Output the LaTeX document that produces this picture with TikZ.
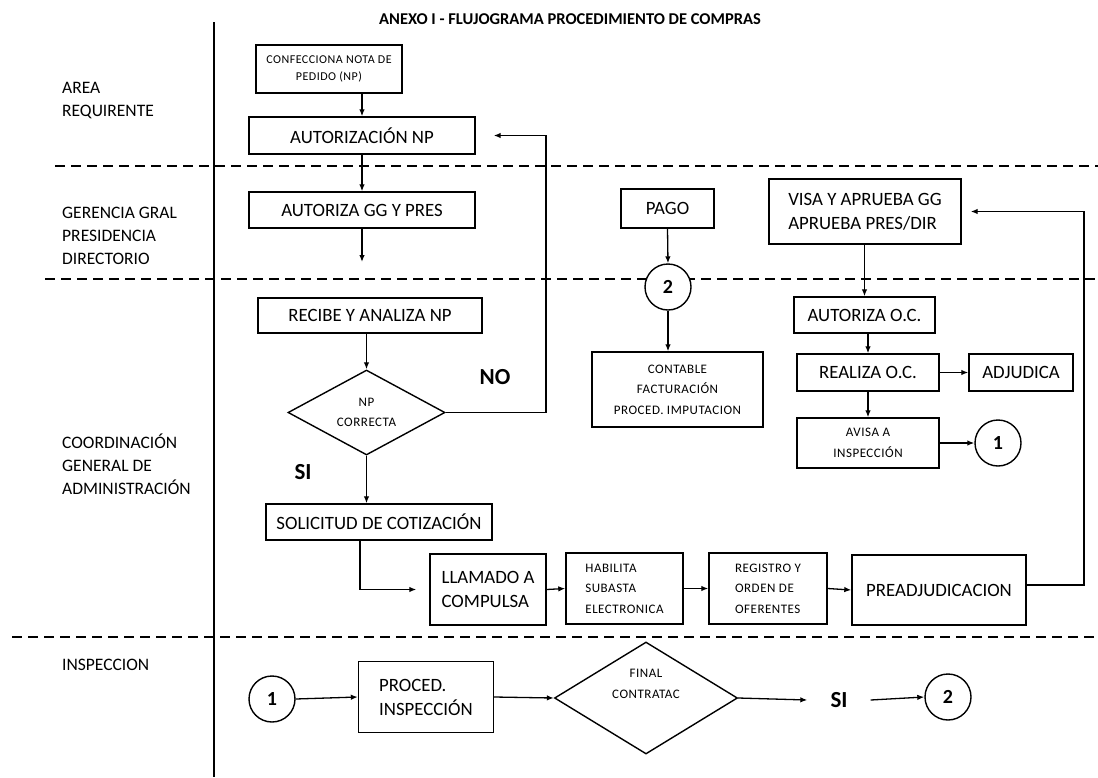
\documentclass[tikz,border=0pt]{standalone}
\usepackage{fontspec}
\setmainfont{Carlito}
\newfontfamily\smf[LetterSpace=4]{Carlito}
\usetikzlibrary{shapes.geometric,arrows.meta}
\newcommand\bigtxt{\fontsize{18.8}{24}\selectfont}
\newcommand\smtxt{\smf\fontsize{13}{20.5}\selectfont}
\newcommand\lbtxt{\fontsize{17.5}{23}\selectfont}
\tikzset{
  box/.style={draw, line width=1.4pt, inner sep=0pt, font=\bigtxt, align=center, fill=white},
  sbox/.style={box, font=\smtxt},
  lbox/.style={box, align=left},
  slbox/.style={lbox, font=\smtxt},
  dia/.style={diamond, draw, line width=1.4pt, inner sep=0pt, font=\smtxt, align=center, fill=white},
  circ/.style={circle, draw, line width=1.4pt, fill=white, minimum size=46pt, inner sep=0pt, font=\bfseries\fontsize{20}{20}\selectfont},
  arr/.style={line width=1.3pt, -{Latex[length=7pt,width=5.5pt]}},
  lane/.style={dash pattern=on 10pt off 6pt, line width=1.3pt},
  lanelabel/.style={anchor=west, align=left, inner sep=0pt, font=\lbtxt},
  yesno/.style={inner sep=0pt, font=\bfseries\fontsize{23}{23}\selectfont}
}
\begin{document}
\begin{tikzpicture}[x=1pt,y=-1pt]
\useasboundingbox[fill=white] (0,0) rectangle (1098,777);

% title
\node[font=\bfseries\fontsize{16.5}{16.5}\selectfont] (title) at (570,19) {ANEXO I - FLUJOGRAMA PROCEDIMIENTO DE COMPRAS};

% lanes
\draw[line width=1.5pt] (214,22) -- (214,777);
\draw[lane] (55,166) -- (1098,166);
\draw[lane] (45,279) -- (1098,279);
\draw[lane] (12,637) -- (1098,637);

\node[lanelabel] (lab1) at (62,101) {AREA\\REQUIRENTE};
\node[lanelabel] (lab2) at (62,236) {GERENCIA GRAL\\PRESIDENCIA\\DIRECTORIO};
\node[lanelabel] (lab3) at (62,464) {COORDINACIÓN\\GENERAL DE\\ADMINISTRACIÓN};
\node[lanelabel] (lab4) at (62,665) {INSPECCION};

% area requirente / gerencia
\node[sbox, font=\smf\fontsize{12}{17}\selectfont, minimum width=146pt, minimum height=48pt] (conf) at (329,69) {CONFECCIONA NOTA DE\\PEDIDO (NP)};
\node[box, minimum width=226pt, minimum height=37pt] (autnp) at (362,135.5) {AUTORIZACIÓN NP};
\node[box, minimum width=226pt, minimum height=36pt] (autgg) at (362,210) {AUTORIZA GG Y PRES};
\coordinate (ggend) at (362,262);
\node[box, minimum width=93pt, minimum height=39pt] (pago) at (667.5,208.5) {PAGO};
\node[lbox, minimum width=192pt, minimum height=65pt] (visa) at (865,211.5) {VISA Y APRUEBA GG\\APRUEBA PRES/DIR};

% coordinacion
\node[box, minimum width=224pt, minimum height=35pt] (recibe) at (370,315.5) {RECIBE Y ANALIZA NP};
\node[dia, minimum width=157pt, minimum height=85pt, aspect=1.85] (np) at (366.5,412.5) {NP\\CORRECTA};
\node[yesno] (no) at (495,377) {NO};
\node[yesno] (si1) at (303,472) {SI};
\node[box, minimum width=226pt, minimum height=36pt] (solic) at (379,522) {SOLICITUD DE COTIZACIÓN};
\node[lbox, minimum width=116pt, minimum height=71pt] (llamado) at (488,589.5) {LLAMADO A\\COMPULSA};
\node[slbox, minimum width=117pt, minimum height=71pt] (habilita) at (624.5,588.5) {HABILITA\\SUBASTA\\ELECTRONICA};
\node[slbox, minimum width=118pt, minimum height=71pt] (registro) at (768,588.5) {REGISTRO Y\\ORDEN DE\\OFERENTES};
\node[box, minimum width=174pt, minimum height=70pt] (preadj) at (939,590) {PREADJUDICACION};

\node[circ] (c2a) at (668,287) {2};
\node[sbox, minimum width=171pt, minimum height=75pt] (contable) at (677.5,389.5) {CONTABLE\\FACTURACIÓN\\PROCED. IMPUTACION};

\node[box, minimum width=141pt, minimum height=36pt] (autoc) at (864.5,315) {AUTORIZA O.C.};
\node[box, minimum width=142pt, minimum height=37pt] (realiza) at (868,372.5) {REALIZA O.C.};
\node[box, minimum width=104pt, minimum height=37pt] (adj) at (1021,372.5) {ADJUDICA};
\node[sbox, minimum width=142pt, minimum height=50pt] (avisa) at (868,443) {AVISA A\\INSPECCIÓN};
\node[circ] (c1a) at (998,443) {1};

% inspeccion
\node[circ] (c1b) at (272,699) {1};
\node[lbox, minimum width=135pt, minimum height=71pt] (proced) at (426,697) {PROCED.\\INSPECCIÓN};
\node[dia, minimum width=183pt, minimum height=112pt, aspect=1.63] (final) at (646,698) {FINAL\\CONTRATAC\\[8pt]};
\node[yesno, inner xsep=23pt] (si2) at (839,700) {SI};
\node[circ] (c2b) at (948,697) {2};

% connectors
\draw[arr] (conf.south -| autnp.north) -- (autnp.north);
\draw[arr] (autnp.south) -- (autgg.north);
\draw[arr] (autgg.south) -- (ggend);
\draw[arr] (pago.south) -- (c2a.north);
\draw[arr] (c2a.south) -- (c2a.south |- contable.north);
\draw[arr] (autoc.north |- visa.south) -- (autoc.north);
\draw[arr] (realiza.north |- autoc.south) -- (realiza.north);
\draw[arr] (realiza.east) -- (adj.west);
\draw[arr] (realiza.south) -- (avisa.north);
\draw[arr] (avisa.east) -- (c1a.west);
\draw[arr] (np.north |- recibe.south) -- (np.north);
\draw[arr] (np.south) -- (np.south |- solic.north);
\coordinate (nox) at (546,300);
\draw[arr, shorten >=18pt] (np.east) -| (nox) |- (autnp.east);
\coordinate (sx) at (360,560);
\draw[arr, shorten >=13pt] (solic.south -| sx) |- (llamado.west);
\draw[arr] (llamado.east) -- (habilita.west);
\draw[arr] (habilita.east) -- (registro.west);
\draw[arr] (registro.east) -- (preadj.west);
\coordinate (lx) at (1084,585);
\draw[arr, shorten >=9pt] (preadj.east |- lx) -- (lx) |- (visa.east);
\draw[arr] (c1b.east) -- (proced.west);
\draw[arr] (proced.east) -- (final.west);
\draw[arr] (final.east) -- (si2.west);
\draw[arr] (si2.east) -- (c2b.west);
\end{tikzpicture}
\end{document}
